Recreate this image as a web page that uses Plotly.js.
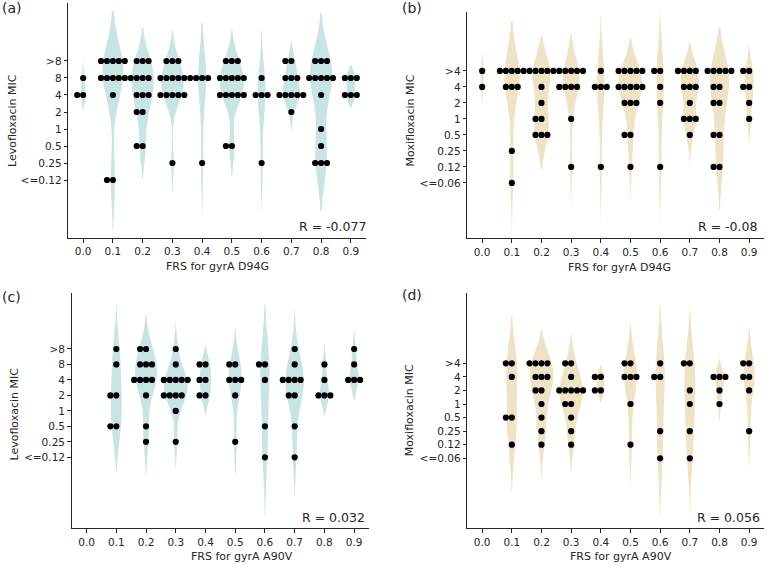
<!DOCTYPE html>
<html><head><meta charset="utf-8">
<script src="https://cdn.plot.ly/plotly-3.0.1.min.js"></script>
<style>html,body{margin:0;padding:0;background:#fff}#chart{width:767px;height:565px}</style>
</head><body><div id="chart"></div>
<script>
// ---------------- data ----------------
const frs = [0.0, 0.1, 0.2, 0.3, 0.4, 0.5, 0.6, 0.7, 0.8, 0.9];
const levoLevels = ['<=0.12', '0.25', '0.5', '1', '2', '4', '8', '>8'];
const moxiLevels = ['<=0.06', '0.12', '0.25', '0.5', '1', '2', '4', '>4'];

// number of isolates per FRS group (rows) at each MIC level (columns, low -> high)
const countsA = [ // levofloxacin, gyrA D94G
  [0,0,0,0,0,2,1,0],
  [2,0,0,0,0,1,5,5],
  [0,0,2,0,2,3,4,3],
  [0,1,0,0,0,5,5,3],
  [0,1,0,0,0,0,4,0],
  [0,0,2,0,0,5,5,3],
  [0,1,0,0,0,3,1,0],
  [0,0,0,0,1,5,3,2],
  [0,3,1,1,0,1,5,3],
  [0,0,0,0,0,3,3,0]
];
const countsB = [ // moxifloxacin, gyrA D94G
  [0,0,0,0,0,0,1,1],
  [1,0,1,0,0,0,3,5],
  [0,0,0,3,2,1,1,5],
  [0,1,0,0,1,0,4,5],
  [0,1,0,0,0,0,3,1],
  [0,1,0,2,0,3,5,5],
  [0,1,0,0,0,1,1,2],
  [0,0,0,1,3,1,3,4],
  [0,2,0,2,0,2,2,5],
  [0,0,0,0,1,1,2,2]
];
const countsC = [ // levofloxacin, gyrA A90V
  [0,0,0,0,0,0,0,0],
  [0,0,2,0,2,0,1,1],
  [0,1,1,0,1,4,3,2],
  [0,1,0,1,4,5,1,1],
  [0,0,0,0,2,2,2,0],
  [0,1,0,0,1,3,2,0],
  [1,0,1,0,0,1,2,0],
  [1,0,1,0,2,4,1,1],
  [0,0,0,0,3,1,1,0],
  [0,0,0,0,0,3,1,1]
];
const countsD = [ // moxifloxacin, gyrA A90V
  [0,0,0,0,0,0,0,0],
  [0,1,0,2,0,0,1,2],
  [0,1,1,1,1,2,3,4],
  [0,1,1,1,2,5,1,2],
  [0,0,0,0,0,2,2,0],
  [0,1,0,0,1,0,3,2],
  [1,0,1,0,0,0,2,1],
  [1,0,1,0,1,1,0,2],
  [0,0,0,0,1,1,3,0],
  [0,0,1,0,0,1,2,2]
];
const rValues = ['-0.077', '-0.08', '0.032', '0.056'];
const panelLetters = ['(a)', '(b)', '(c)', '(d)'];
const yTitles = ['Levofloxacin MIC', 'Moxifloxacin MIC', 'Levofloxacin MIC', 'Moxifloxacin MIC'];
const xTitles = ['FRS for gyrA D94G', 'FRS for gyrA D94G', 'FRS for gyrA A90V', 'FRS for gyrA A90V'];

// ---------------- layout geometry (pixels) ----------------
const W = 767, H = 565;
const FONT = 'DejaVu Sans, Liberation Sans, sans-serif';
const TEAL = '#c9e5e1', SAND = '#efe3c7';
const panels = [
  {counts: countsA, levels: levoLevels, color: TEAL, box: [68.3, 3, 365.7, 238], yr: [-3.41, 10.41],
   letter: [0, 7.5], ytl: [12.5, 120.5], xtl: [217, 266.5], r: [368, 226]},
  {counts: countsB, levels: moxiLevels, color: SAND, box: [467.3, 11.7, 764, 238.3], yr: [-3.46, 10.7],
   letter: [400, 7.5], ytl: [409.5, 121], xtl: [619.7, 268], r: [759, 226.5]},
  {counts: countsC, levels: levoLevels, color: TEAL, box: [71.7, 293.3, 369, 528.3], yr: [-4.59, 10.6],
   letter: [0, 296.5], ytl: [13.5, 414], xtl: [242, 556.5], r: [366.7, 517.3]},
  {counts: countsD, levels: moxiLevels, color: SAND, box: [467.3, 293.3, 764, 528.3], yr: [-5.16, 12.16],
   letter: [400, 295], ytl: [409.5, 410.8], xtl: [621, 556.5], r: [762.3, 517.3]}
];
const px = x => x / W, py = y => 1 - y / H;

// ---------------- helpers ----------------
function groupValues(row) {
  const vals = [];
  row.forEach((c, lvl) => { for (let k = 0; k < c; k++) vals.push(lvl); });
  return vals;
}
function scottBw(vals) {
  const n = vals.length;
  const mean = vals.reduce((a, b) => a + b, 0) / n;
  const sd = Math.sqrt(vals.reduce((a, v) => a + (v - mean) * (v - mean), 0) / (n - 1));
  return sd * Math.pow(n, -0.2);
}
function swarmOffset(k) { // 0, -1, +1, -2, +2 ...
  if (k === 0) return 0;
  return (k % 2 === 1) ? -(k + 1) / 2 : k / 2;
}

const traces = [];
const layout = {
  width: W, height: H, margin: {l: 0, r: 0, t: 0, b: 0},
  paper_bgcolor: '#fff', plot_bgcolor: 'rgba(0,0,0,0)',
  showlegend: false, violinmode: 'overlay',
  font: {family: FONT, color: '#262626'},
  annotations: []
};

panels.forEach((p, idx) => {
  const sfx = idx === 0 ? '' : String(idx + 1);
  const xa = 'x' + sfx, ya = 'y' + sfx;
  const groups = p.counts.map(groupValues);
  const maxN = Math.max(...groups.map(g => g.length));

  // violins (each normalised to its own peak, width proportional to count)
  groups.forEach((vals, i) => {
    if (vals.length < 2) return;
    traces.push({
      type: 'violin', orientation: 'v', xaxis: xa, yaxis: ya,
      x: vals.map(() => frs[i]), y: vals,
      width: 0.08 * vals.length / maxN, scalemode: 'width',
      bandwidth: scottBw(vals), spanmode: 'soft',
      points: false, box: {visible: false}, meanline: {visible: false},
      fillcolor: p.color, line: {width: 0, color: p.color},
      hoverinfo: 'skip', showlegend: false
    });
  });

  // swarm dots
  const sx = [], sy = [];
  p.counts.forEach((row, i) => {
    row.forEach((c, lvl) => {
      for (let k = 0; k < c; k++) { sx.push(frs[i] + swarmOffset(k) * 0.02); sy.push(lvl); }
    });
  });
  traces.push({
    type: 'scatter', mode: 'markers', xaxis: xa, yaxis: ya, x: sx, y: sy,
    marker: {color: '#000', size: 6.2, line: {width: 0}}, cliponaxis: false,
    hoverinfo: 'skip', showlegend: false
  });

  const [x0, y0, x1, y1] = p.box;
  const axCommon = {
    showgrid: false, zeroline: false, showline: true, linecolor: '#262626', linewidth: 1.1,
    ticks: 'outside', ticklen: 3.5, tickwidth: 1, tickcolor: '#262626',
    tickfont: {family: FONT, size: 10.5, color: '#262626'}, fixedrange: true
  };
  layout['xaxis' + sfx] = Object.assign({}, axCommon, {
    type: 'linear', domain: [px(x0), px(x1)], anchor: ya, range: [-0.05, 0.95],
    tickmode: 'array', tickvals: frs, ticktext: frs.map(v => v.toFixed(1))
  });
  layout['yaxis' + sfx] = Object.assign({}, axCommon, {
    type: 'linear', domain: [py(y1), py(y0)], anchor: xa, range: p.yr,
    tickmode: 'array', tickvals: p.levels.map((_, j) => j), ticktext: p.levels
  });

  const A = layout.annotations;
  A.push({xref: 'paper', yref: 'paper', x: px(p.letter[0]), y: py(p.letter[1]), xanchor: 'left', yanchor: 'middle',
          text: panelLetters[idx], showarrow: false, font: {family: FONT, size: 14, color: '#262626'}});
  A.push({xref: 'paper', yref: 'paper', x: px(p.ytl[0]), y: py(p.ytl[1]), xanchor: 'center', yanchor: 'middle',
          text: yTitles[idx], textangle: -90, showarrow: false, font: {family: FONT, size: 11, color: '#262626'}});
  A.push({xref: 'paper', yref: 'paper', x: px(p.xtl[0]), y: py(p.xtl[1]), xanchor: 'center', yanchor: 'middle',
          text: xTitles[idx], showarrow: false, font: {family: FONT, size: 11, color: '#262626'}});
  A.push({xref: 'paper', yref: 'paper', x: px(p.r[0]), y: py(p.r[1]), xanchor: 'right', yanchor: 'middle',
          text: 'R = ' + rValues[idx], showarrow: false, font: {family: FONT, size: 12.5, color: '#262626'}});
});

Plotly.newPlot('chart', traces, layout, {staticPlot: true, displayModeBar: false});
</script>
</body></html>
